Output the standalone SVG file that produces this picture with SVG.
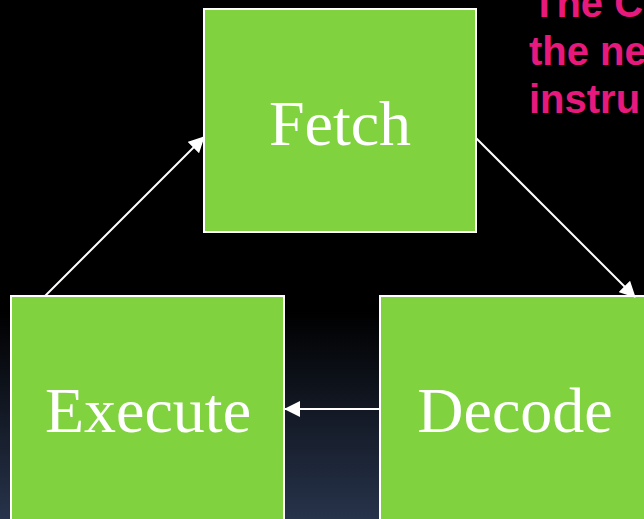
<svg xmlns="http://www.w3.org/2000/svg" width="644" height="519" viewBox="0 0 644 519">
  <defs>
    <linearGradient id="bg" x1="0" y1="0" x2="0" y2="519" gradientUnits="userSpaceOnUse">
      <stop offset="0" stop-color="#000000"/>
      <stop offset="0.6" stop-color="#000000"/>
      <stop offset="1" stop-color="#27334b"/>
    </linearGradient>
    <marker id="arrow" viewBox="0 0 16 16" refX="15" refY="8" markerWidth="16" markerHeight="16" markerUnits="userSpaceOnUse" orient="auto">
      <path d="M0,0 L16,8 L0,16 z" fill="#ffffff"/>
    </marker>
    <style>
      .box { fill: #80d23e; stroke: #ffffff; stroke-width: 2; }
      .label { font-family: "Liberation Serif", "Times New Roman", serif; font-size: 64px; fill: #ffffff; text-anchor: middle; }
      .link { stroke: #ffffff; stroke-width: 2; fill: none; marker-end: url(#arrow); }
      .note { font-family: "Liberation Sans", Arial, sans-serif; font-size: 40px; font-weight: bold; fill: #e8197c; }
    </style>
  </defs>

  <rect x="0" y="0" width="644" height="519" fill="url(#bg)"/>

  <g id="fetch">
    <rect class="box" x="204" y="9" width="272" height="223"/>
    <text class="label" x="340" y="145">Fetch</text>
  </g>

  <g id="execute">
    <rect class="box" x="11" y="296" width="273" height="240"/>
    <text class="label" x="148" y="432">Execute</text>
  </g>

  <g id="decode">
    <rect class="box" x="380" y="296" width="280" height="240"/>
    <text class="label" x="515" y="432">Decode</text>
  </g>

  <g id="connectors">
    <line class="link" x1="45" y1="296" x2="204" y2="137"/>
    <line class="link" x1="476" y1="138" x2="635" y2="297"/>
    <line class="link" x1="379" y1="409" x2="285" y2="409"/>
  </g>

  <g id="note">
    <text class="note" x="532" y="17">The C</text>
    <text class="note" x="529" y="65">the ne</text>
    <text class="note" x="529" y="113">instru</text>
  </g>
</svg>
